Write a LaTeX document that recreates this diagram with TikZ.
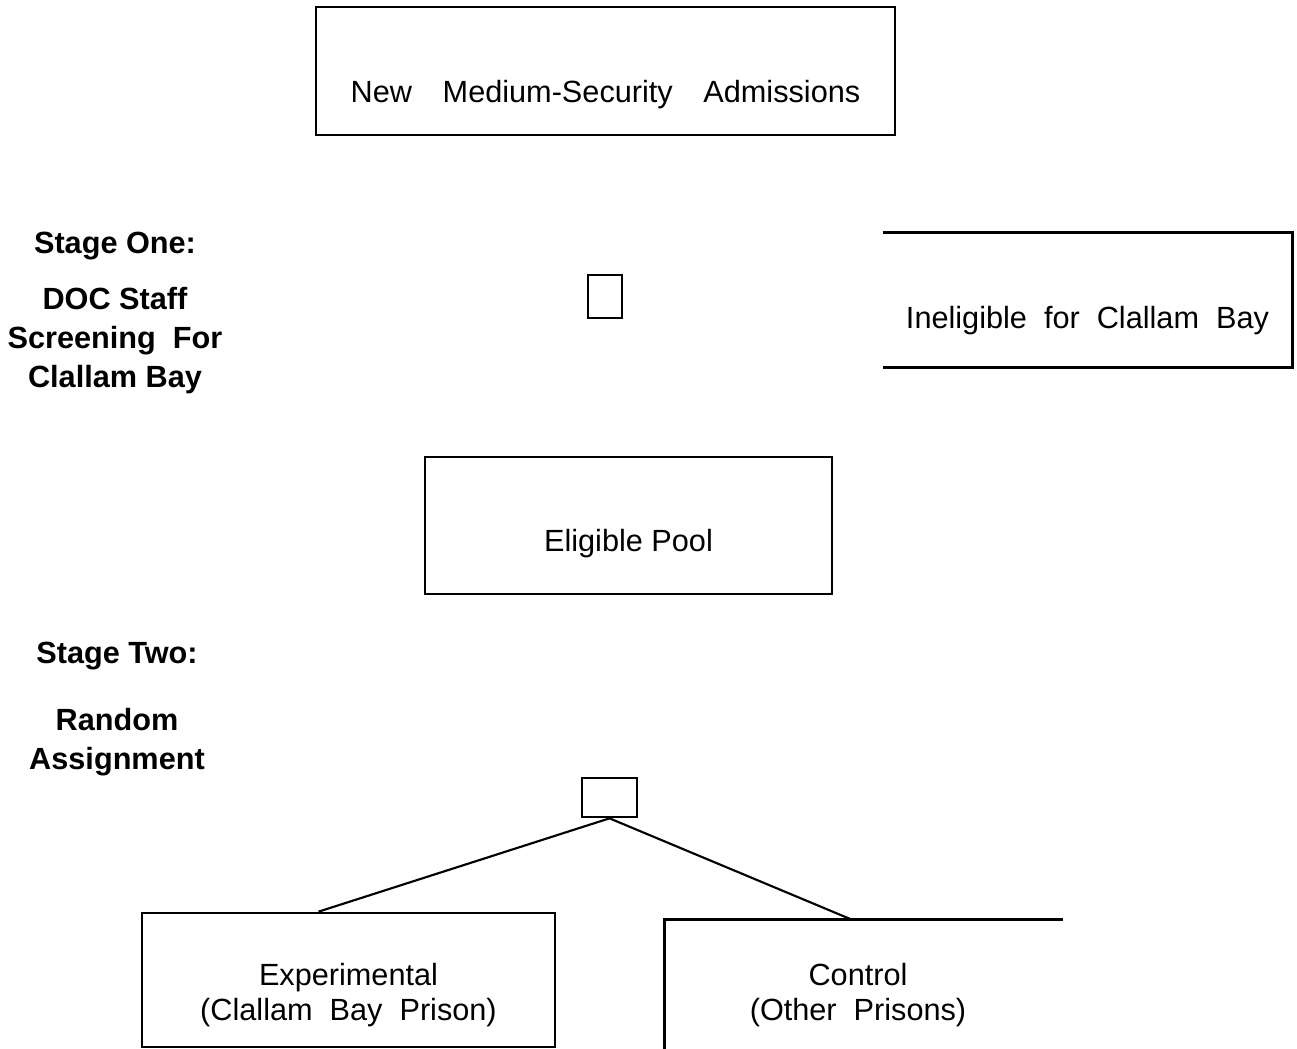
\documentclass[tikz,border=0pt]{standalone}
\usepackage{fontspec}
\setmainfont{Liberation Sans}
\usetikzlibrary{calc}

\begin{document}
\begin{tikzpicture}[x=0.75pt,y=-0.75pt]
    \tikzstyle{every node} = [font=\fontsize{23}{26.25}\selectfont]
    \tikzstyle{block} = [draw, rectangle, line width=2pt, inner sep=0pt, align=center]
    \tikzstyle{openblock} = [rectangle, inner sep=0pt, align=center]
    \tikzstyle{stage} = [align=center, inner sep=0pt, font=\fontsize{23}{29.25}\selectfont\bfseries]
    \useasboundingbox (0,0) rectangle (1297,1049);
    % place nodes
    \node[block, minimum width=434.25pt, text height=72pt, text depth=24pt] (admissions) at (605.5,71) {New\quad Medium-Security\quad Admissions};
    \node[block, minimum width=25.5pt, minimum height=32.25pt] (screen) at (605,296.5) {};
    \node[openblock, minimum width=306.75pt, text height=71.25pt, text depth=29.25pt] (ineligible) at (1087.5,300) {Ineligible\ \ for\ \ Clallam\ \ Bay};
    \node[block, minimum width=305.25pt, text height=70.5pt, text depth=32.25pt] (pool) at (628.5,525.5) {Eligible Pool};
    \node[block, minimum width=41.25pt, minimum height=29.25pt] (random) at (609.5,797.5) {};
    \node[block, minimum width=309.75pt, text height=80.25pt, text depth=20.25pt] (experimental) at (348.5,980) {Experimental\\(Clallam\ \ Bay\ \ Prison)};
    \node[openblock, minimum width=289.5pt, text height=75pt, text depth=27pt] (control) at (858,988) {Control\\(Other\ \ Prisons)};

    % stage labels
    \node[stage] (stageOne) at (115,246) {Stage One:};
    \node[stage] (screening) at (115,341) {DOC Staff\\Screening\ \ For\\Clallam Bay};
    \node[stage] (stageTwo) at (117,656) {Stage Two:};
    \node[stage] (assignment) at (117,742.5) {Random\\Assignment};

    % open sides
    \draw[line width=2pt]
    (ineligible.north west)--(ineligible.north east)--(ineligible.south east)--(ineligible.south west);
    \draw[line width=2pt]
    (control.south west)--(control.north west)--($(control.north east)+(12,0)$);

    % Connections
    \draw[line width=1.6pt]
    ($(experimental.north)+(-30,0)$)--(random.south)--($(control.north)+(-6,0)$);

  \end{tikzpicture}
\end{document}
